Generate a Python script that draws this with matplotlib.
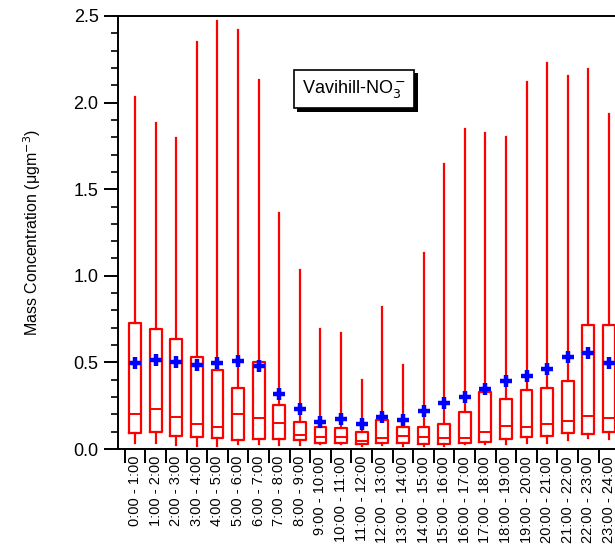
import matplotlib
matplotlib.use("Agg")
import matplotlib.pyplot as plt
from matplotlib.ticker import MultipleLocator
import matplotlib.patheffects as pe

plt.rcParams["font.family"] = ["Liberation Sans", "DejaVu Sans"]

hours = [f"{h}:00 - {h + 1}:00" for h in range(24)]
q1 = [0.094, 0.100, 0.075, 0.067, 0.064, 0.050, 0.056, 0.056, 0.050, 0.036, 0.036, 0.029,
      0.033, 0.036, 0.029, 0.029, 0.036, 0.042, 0.056, 0.069, 0.073, 0.094, 0.087, 0.096]
median = [0.200, 0.233, 0.185, 0.144, 0.129, 0.200, 0.181, 0.148, 0.083, 0.067, 0.071, 0.046,
          0.062, 0.077, 0.067, 0.062, 0.065, 0.098, 0.135, 0.129, 0.144, 0.160, 0.192, 0.179]
q3 = [0.726, 0.691, 0.635, 0.531, 0.458, 0.351, 0.504, 0.256, 0.156, 0.129, 0.123, 0.100,
      0.167, 0.125, 0.129, 0.146, 0.212, 0.329, 0.289, 0.343, 0.352, 0.394, 0.718, 0.718]
low = [0.033, 0.036, 0.023, 0.020, 0.020, 0.027, 0.029, 0.021, 0.025, 0.027, 0.027, 0.020,
       0.023, 0.019, 0.019, 0.020, 0.027, 0.027, 0.029, 0.033, 0.033, 0.052, 0.062, 0.056]
high = [2.034, 1.880, 1.796, 2.352, 2.470, 2.420, 2.130, 1.363, 1.033, 0.691, 0.668, 0.400,
        0.818, 0.483, 1.130, 1.647, 1.849, 1.826, 1.803, 2.117, 2.227, 2.155, 2.194, 1.936]
mean = [0.495, 0.512, 0.500, 0.485, 0.498, 0.510, 0.479, 0.316, 0.233, 0.156, 0.171, 0.143,
        0.187, 0.166, 0.217, 0.266, 0.302, 0.346, 0.393, 0.423, 0.462, 0.533, 0.556, 0.495]

stats = []
for i in range(len(hours)):
    stats.append({"med": median[i], "q1": q1[i], "q3": q3[i], "whislo": low[i],
                  "whishi": high[i], "mean": mean[i], "fliers": []})

fig = plt.figure(figsize=(6.15, 5.47), dpi=100)
ax = fig.add_axes([118 / 615, 98 / 547, 508 / 615, 433 / 547])

red = "#ff0000"
ax.bxp(stats, positions=range(len(hours)), widths=0.58, showcaps=False, showmeans=True,
       showfliers=False,
       boxprops=dict(color=red, linewidth=1.6),
       whiskerprops=dict(color=red, linewidth=1.6),
       medianprops=dict(color=red, linewidth=1.4),
       meanprops=dict(marker="+", markeredgecolor="#0000ff", markersize=9, markeredgewidth=3.2))

ax.set_xlim(-0.83, 23.83)
ax.set_ylim(0, 2.5)
ax.spines["right"].set_visible(False)
for s in ["left", "bottom", "top"]:
    ax.spines[s].set_linewidth(1.4)

ax.yaxis.set_major_locator(MultipleLocator(0.5))
ax.yaxis.set_minor_locator(MultipleLocator(0.1))
ax.yaxis.set_major_formatter(plt.FormatStrFormatter("%.1f"))
ax.tick_params(axis="y", which="major", direction="out", length=10, width=1.4, labelsize=13, pad=4)
ax.tick_params(axis="y", which="minor", direction="out", length=5, width=1.2)

ax.set_xticks([i - 0.5 for i in range(len(hours) + 1)])
ax.set_xticklabels([])
ax.set_xticks(range(len(hours)), minor=True)
ax.set_xticklabels(hours, minor=True, rotation=90, fontsize=10.5)
ax.tick_params(axis="x", which="major", direction="out", length=10, width=1.4)
ax.tick_params(axis="x", which="minor", length=0, pad=5)

ax.set_ylabel("Mass Concentration (μgm$^{-3}$)", fontsize=11.5, labelpad=22)

t = fig.text(354 / 615, 1 - 89 / 547, "Vavihill-NO$_3^-$",
             ha="center", va="center", fontsize=13,
             bbox=dict(boxstyle="square,pad=0.45", fc="white", ec="black", lw=1.2))
t.get_bbox_patch().set_path_effects([pe.withSimplePatchShadow(offset=(2.5, -2.5), shadow_rgbFace="black", alpha=1)])

fig.savefig("out.png", dpi=100)
